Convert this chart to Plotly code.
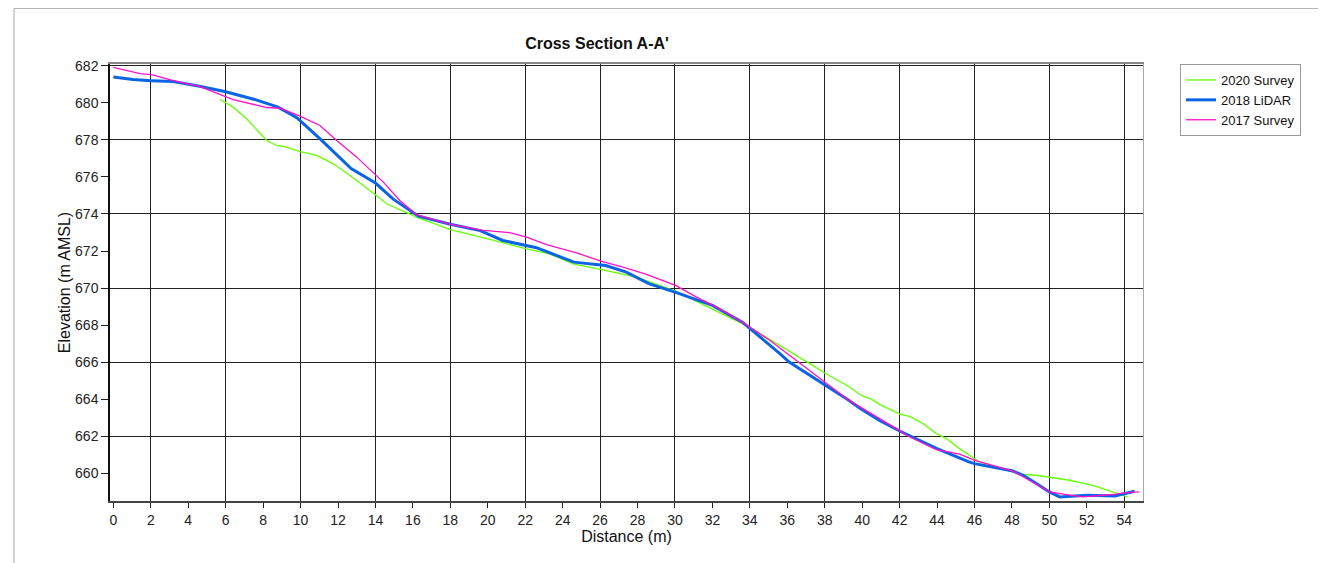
import plotly.graph_objects as go

# ---- data ----
x_2020 = [5.7, 6.4, 7.12, 8.19, 8.72, 9.26, 9.97, 10.86, 11.75, 12.64, 13.88, 14.6, 16.2, 18, 19.75,
          22.07, 23.3, 24.56, 26.08, 27.94, 30.03, 31.5, 33.6, 34.35, 35.77, 37.2, 38.0, 39.33, 39.96,
          40.49, 40.93, 42.04, 42.54, 43.25, 43.96, 44.5, 45.2, 45.74, 46.27, 48.05, 48.58, 49.3, 50.0,
          51.07, 52.32, 53.39, 54.19]
y_2020 = [680.18, 679.77, 679.14, 677.97, 677.7, 677.61, 677.37, 677.16, 676.71, 676.08, 675.13, 674.55,
          673.83, 673.15, 672.72, 672.12, 671.85, 671.31, 671.0, 670.59, 669.83, 669.12, 668.08, 667.66,
          666.81, 665.92, 665.41, 664.66, 664.2, 664.0, 663.72, 663.18, 663.07, 662.68, 662.14, 661.87,
          661.33, 660.97, 660.61, 660.07, 659.93, 659.89, 659.77, 659.62, 659.35, 658.99, 658.72]

x_2018 = [0, 1.05, 2, 3.2, 4.6, 6, 7.5, 8.8, 9.8, 11.1, 12.7, 14.0, 14.95, 16.3, 18, 19.6, 20.8, 22.1,
          22.6, 24.6, 26.3, 27.4, 28.6, 30.0, 30.8, 32.0, 33.6, 34.35, 35.6, 36.1, 38.0, 39.2, 39.9,
          40.9, 42.0, 44.0, 45.7, 46.0, 48.05, 48.6, 49.3, 50.0, 50.55, 52.0, 53.5, 54.55]
y_2018 = [681.4, 681.26, 681.2, 681.15, 680.9, 680.6, 680.2, 679.77, 679.2, 678.0, 676.45, 675.67,
          674.8, 673.88, 673.45, 673.1, 672.57, 672.3, 672.18, 671.4, 671.22, 670.86, 670.24, 669.78,
          669.5, 669.06, 668.16, 667.54, 666.46, 666.0, 664.78, 664.0, 663.5, 662.86, 662.28, 661.33,
          660.61, 660.52, 660.12, 659.89, 659.44, 658.99, 658.72, 658.81, 658.77, 659.03]

x_2017 = [0, 1.43, 2.03, 3.2, 4.63, 5.79, 6.4, 8.19, 8.9, 9.97, 11.03, 11.93, 13.0, 14.42, 15.3, 16.2,
          18, 19.75, 21.18, 22.07, 23.14, 24.74, 26.08, 27.23, 28.48, 30.03, 31.15, 32.22, 33.6, 35.06,
          36.49, 38.0, 38.7, 39.2, 40.58, 40.93, 42.0, 42.36, 43.96, 45.2, 46.02, 46.98, 48.05, 48.94,
          50.0, 50.9, 51.79, 53.39, 54.0, 54.8]
y_2017 = [681.92, 681.58, 681.53, 681.2, 680.88, 680.4, 680.18, 679.75, 679.71, 679.28, 678.78, 677.97,
          677.07, 675.72, 674.73, 673.96, 673.44, 673.11, 672.99, 672.75, 672.34, 671.9, 671.44, 671.13,
          670.74, 670.14, 669.51, 668.97, 668.16, 667.18, 666.1, 664.93, 664.39, 664.0, 663.13, 662.95,
          662.3, 662.05, 661.28, 661.03, 660.7, 660.43, 660.12, 659.62, 658.99, 658.85, 658.72, 658.85,
          658.94, 658.99]

x_ticks = list(range(0, 56, 2))
y_ticks = list(range(660, 684, 2))

FONT = "Liberation Sans, Arial, sans-serif"
XR = [-0.18, 55]
YR = [658.5, 682.1]

# the page body has an 8px margin, so the figure is offset by (8, 8)
W, H = 1318, 555
ML, MR, MT, MB = 102, 183, 56, 62
PW = W - ML - MR
PH = H - MT - MB

fig = go.Figure()
fig.add_trace(go.Scatter(x=x_2020, y=y_2020, mode="lines", name="2020 Survey",
                         line=dict(color="#66ff00", width=1.3)))
fig.add_trace(go.Scatter(x=x_2018, y=y_2018, mode="lines", name="2018 LiDAR",
                         line=dict(color="#0a64e6", width=3)))
fig.add_trace(go.Scatter(x=x_2017, y=y_2017, mode="lines", name="2017 Survey",
                         xaxis="x2", yaxis="y2",
                         line=dict(color="#ff10c8", width=1.3)))

frame_x = (6 - ML) / PW
frame_y = (MT + PH - 0.5) / PH

fig.update_layout(
    width=W, height=H,
    margin=dict(l=ML, r=MR, t=MT, b=MB),
    paper_bgcolor="white", plot_bgcolor="white",
    font=dict(family=FONT, size=14, color="#111"),
    title=dict(text="<b>Cross Section A-A'</b>", x=589 / W, xref="container", xanchor="center",
               y=1 - 35 / H, yref="container", yanchor="middle",
               font=dict(family=FONT, size=16, color="#111")),
    xaxis=dict(range=XR, tickvals=x_ticks, ticktext=[str(v) for v in x_ticks],
               showgrid=False, zeroline=False, ticks="outside", ticklen=5, tickwidth=1.2,
               tickcolor="#222", showline=True, linecolor="#444", linewidth=2,
               tickfont=dict(size=14, color="#222"),
               title=dict(text="Distance (m)", font=dict(size=16, color="#111"), standoff=4)),
    yaxis=dict(range=YR, tickvals=y_ticks, ticktext=[str(v) for v in y_ticks],
               showgrid=False, zeroline=False, ticks="outside", ticklen=7, tickwidth=1.2,
               tickcolor="#222", showline=True, linecolor="#111", linewidth=1.5,
               tickfont=dict(size=14, color="#222"),
               title=dict(text="Elevation (m AMSL)", font=dict(size=16, color="#111"), standoff=0)),
    xaxis2=dict(range=XR, overlaying="x", side="top", anchor="y2", tick0=2, dtick=4,
                showgrid=True, gridcolor="#222", gridwidth=1.4, showticklabels=False, ticks="",
                zeroline=False, showline=True, linecolor="#888", linewidth=2),
    yaxis2=dict(range=YR, overlaying="y", side="right", anchor="x2", tick0=662, dtick=4,
                showgrid=True, gridcolor="#222", gridwidth=1.4, showticklabels=False, ticks="",
                zeroline=False, showline=True, linecolor="#aaa", linewidth=1.2),
    legend=dict(x=(1172 - ML) / PW, y=1.0, xanchor="left", yanchor="top",
                bordercolor="#999", borderwidth=1, bgcolor="white",
                font=dict(size=13, color="#111"), tracegroupgap=0),
    shapes=[
        dict(type="line", xref="paper", yref="paper", x0=frame_x, x1=1.3, y0=frame_y, y1=frame_y,
             line=dict(color="#b4b4b4", width=1.2)),
        dict(type="line", xref="paper", yref="paper", x0=frame_x, x1=frame_x, y0=-0.3, y1=frame_y,
             line=dict(color="#b4b4b4", width=1.2)),
    ],
)

fig.write_html("out.html")
